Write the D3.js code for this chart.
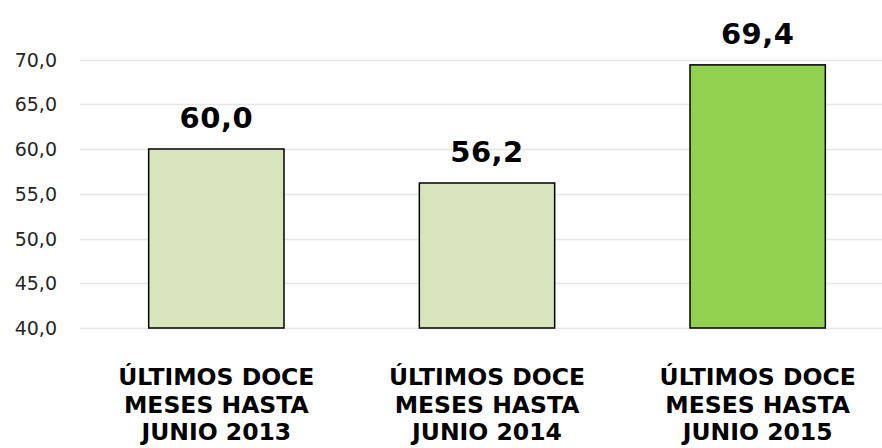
<!DOCTYPE html>
<html>
<head>
<meta charset="utf-8">
<script src="https://cdn.jsdelivr.net/npm/d3@7"></script>
<style>
  body { margin: 0; background: #fff; }
  svg { display: block; font-family: "DejaVu Sans", sans-serif; }
  .grid line { stroke: #e6e6e6; stroke-width: 1.3px; }
  .tick-label { font-size: 19px; fill: #262626; }
  .value-label { font-size: 29px; font-weight: bold; fill: #000; letter-spacing: 0.5px; }
  .cat-label { font-size: 23.5px; font-weight: bold; fill: #000; }
</style>
</head>
<body>
<svg id="chart"></svg>
<script>
// data
const categories = [
  ["ÚLTIMOS DOCE", "MESES HASTA", "JUNIO 2013"],
  ["ÚLTIMOS DOCE", "MESES HASTA", "JUNIO 2014"],
  ["ÚLTIMOS DOCE", "MESES HASTA", "JUNIO 2015"]
];
const values = [60.0, 56.2, 69.4];
const valueLabels = ["60,0", "56,2", "69,4"];
const barColors = ["#d8e4bc", "#d8e4bc", "#92d050"];
const yTicks = [40, 45, 50, 55, 60, 65, 70];

const width = 882, height = 448;

const svg = d3.select("#chart")
  .attr("width", width)
  .attr("height", height);

// scales
const x = d3.scaleBand()
  .domain(d3.range(values.length))
  .range([81, 893])
  .paddingInner(0.5)
  .paddingOuter(0.25);

const y = d3.scaleLinear()
  .domain([40, 70])
  .range([328, 59.5]);

const fmt = d => d.toFixed(1).replace(".", ",");

// gridlines
svg.append("g")
  .attr("class", "grid")
  .selectAll("line")
  .data(yTicks)
  .join("line")
  .attr("x1", 80)
  .attr("x2", width)
  .attr("y1", d => Math.round(y(d)) + 0.5)
  .attr("y2", d => Math.round(y(d)) + 0.5);

// y tick labels
svg.append("g")
  .selectAll("text")
  .data(yTicks)
  .join("text")
  .attr("class", "tick-label")
  .attr("x", 57)
  .attr("y", d => y(d) + 7)
  .attr("text-anchor", "end")
  .text(fmt);

// bars
svg.append("g")
  .selectAll("rect")
  .data(values)
  .join("rect")
  .attr("x", (d, i) => x(i))
  .attr("y", d => y(d))
  .attr("width", x.bandwidth())
  .attr("height", d => y(40) - y(d))
  .attr("fill", (d, i) => barColors[i])
  .attr("stroke", "#000")
  .attr("stroke-width", 1.5);

// value labels
svg.append("g")
  .selectAll("text")
  .data(values)
  .join("text")
  .attr("class", "value-label")
  .attr("x", (d, i) => x(i) + x.bandwidth() / 2)
  .attr("y", d => y(d) - 21)
  .attr("text-anchor", "middle")
  .text((d, i) => valueLabels[i]);

// category labels
const cat = svg.append("g")
  .selectAll("text")
  .data(categories)
  .join("text")
  .attr("class", "cat-label")
  .attr("text-anchor", "middle")
  .attr("x", (d, i) => x(i) + x.bandwidth() / 2)
  .attr("y", 385);

cat.selectAll("tspan")
  .data(d => d)
  .join("tspan")
  .attr("x", function () { return d3.select(this.parentNode).attr("x"); })
  .attr("dy", (d, i) => i === 0 ? 0 : 27.5)
  .text(d => d);
</script>
</body>
</html>
